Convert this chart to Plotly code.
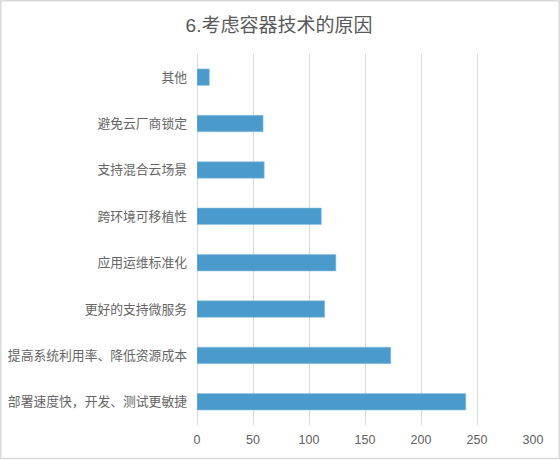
import plotly.graph_objects as go

categories = [
    "部署速度快，开发、测试更敏捷",
    "提高系统利用率、降低资源成本",
    "更好的支持微服务",
    "应用运维标准化",
    "跨环境可移植性",
    "支持混合云场景",
    "避免云厂商锁定",
    "其他",
]
values = [240, 173, 114, 124, 111, 60, 59, 11]
title_text = "6.考虑容器技术的原因"

W, H = 560, 460
L, R, T, B = 197, 27, 54, 35
pw, ph = W - L - R, H - T - B

fig = go.Figure(go.Bar(
    x=values, y=categories, orientation="h",
    marker=dict(color="#4a9bcb", line=dict(color="#8cc3e3", width=0.6)),
))

font_fam = "Liberation Sans, Noto Sans CJK SC, sans-serif"
fig.update_layout(
    width=W, height=H,
    margin=dict(l=L, r=R, t=T, b=B, pad=0, autoexpand=False),
    paper_bgcolor="white", plot_bgcolor="white",
    bargap=0.645,
    showlegend=False,
    font=dict(family=font_fam, color="#595959", size=12),
    title=dict(text=title_text, x=279 / W, xanchor="center", y=1 - 25 / H, yanchor="middle",
               font=dict(size=19, color="#595959", family=font_fam)),
    xaxis=dict(range=[0, 300], dtick=50, showgrid=True, gridcolor="#d9d9d9", gridwidth=1,
               zeroline=True, zerolinecolor="#d9d9d9", zerolinewidth=1, showline=False,
               ticks="", automargin=False, ticklabelstandoff=5,
               tickfont=dict(size=12.5, color="#606060"), fixedrange=True),
    yaxis=dict(showgrid=False, showline=False, ticks="", ticklabelstandoff=9, automargin=False,
               tickfont=dict(size=12.8, color="#666666"), fixedrange=True),
    shapes=[dict(type="rect", xref="paper", yref="paper",
                 x0=(0.75 - L) / pw, x1=(559.25 - L) / pw,
                 y0=(H - 458.5 - B) / ph, y1=(H - 0.75 - B) / ph,
                 line=dict(color="#d9d9d9", width=1.5), fillcolor="rgba(0,0,0,0)", layer="above")],
)

fig.write_html("out.html", config={"displayModeBar": False},
               post_script="document.body.style.margin='0';")
